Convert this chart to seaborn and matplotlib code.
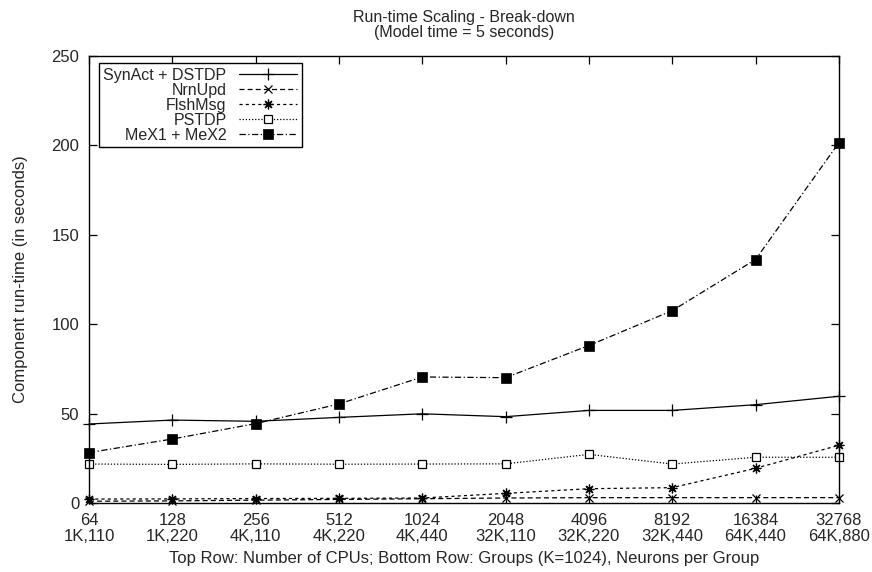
import matplotlib
matplotlib.use("Agg")
import matplotlib.pyplot as plt
import seaborn as sns
import numpy as np
import pandas as pd

cpus = ["64", "128", "256", "512", "1024", "2048", "4096", "8192", "16384", "32768"]
groups = ["1K,110", "1K,220", "4K,110", "4K,220", "4K,440",
          "32K,110", "32K,220", "32K,440", "64K,440", "64K,880"]

synact = [44.2, 46.4, 45.7, 47.9, 49.9, 48.3, 51.8, 51.8, 55.0, 59.7]
nrnupd = [1.0, 1.2, 1.6, 2.0, 2.4, 2.8, 3.0, 3.0, 3.0, 3.0]
flshmsg = [2.2, 2.3, 2.5, 2.6, 2.8, 5.4, 8.0, 8.6, 19.4, 32.3]
pstdp = [21.8, 21.6, 21.9, 21.7, 21.8, 21.9, 27.2, 21.8, 25.6, 25.6]
mex = [28.2, 35.8, 44.4, 55.4, 70.5, 70.1, 88.1, 107.6, 136.2, 201.5]

sns.set_theme(style="white")
plt.rcParams["font.family"] = ["Liberation Sans", "DejaVu Sans"]

FS = 12

fig = plt.figure(figsize=(8.72, 5.72), dpi=100)
ax = fig.add_axes([0.102, 0.1206, 0.86, 0.7814])

pos = np.arange(len(cpus))
series = [
    ("SynAct + DSTDP", synact, dict(linestyle="-", marker="+", markersize=8, markeredgewidth=0.9)),
    ("NrnUpd", nrnupd, dict(linestyle=(0, (4, 2.5)), marker="x", markersize=6, markeredgewidth=0.9)),
    ("FlshMsg", flshmsg, dict(linestyle=(0, (2.5, 2.5)), marker=(8, 2, 0), markersize=7, markeredgewidth=0.9)),
    ("PSTDP", pstdp, dict(linestyle=(0, (1, 1.5)), marker="s", markersize=6, markerfacecolor="white", markeredgewidth=0.9)),
    ("MeX1 + MeX2", mex, dict(linestyle=(0, (5, 2, 1, 2)), marker="s", markersize=7, markerfacecolor="black", markeredgewidth=0.5)),
]

for name, vals, style in series:
    df = pd.DataFrame({"pos": pos, "val": vals})
    sns.lineplot(data=df, x="pos", y="val", ax=ax, color="black", linewidth=0.9,
                 markeredgecolor="black", label=name, clip_on=False, **style)

ax.set_xlim(0, len(cpus) - 1)
ax.set_ylim(0, 250)
ax.set_xticks(pos)
ax.set_xticklabels([f"{c}\n{g}" for c, g in zip(cpus, groups)], fontsize=FS, linespacing=1.12)
ax.set_yticks(np.arange(0, 251, 50))
ax.tick_params(axis="y", labelsize=FS, pad=7)
ax.tick_params(axis="x", pad=7)
ax.tick_params(direction="in", length=6, width=0.9, color="black",
               top=True, right=True, bottom=True, left=True)

for sp in ax.spines.values():
    sp.set_color("black")
    sp.set_linewidth(1.0)

ax.set_xlabel("Top Row: Number of CPUs; Bottom Row: Groups (K=1024), Neurons per Group",
              fontsize=FS, labelpad=5)
ax.set_ylabel("Component run-time (in seconds)", fontsize=FS, labelpad=17)
ax.set_title("Run-time Scaling - Break-down\n(Model time = 5 seconds)", fontsize=11.5,
             pad=14, linespacing=1.0)

leg = ax.legend(loc="upper left", bbox_to_anchor=(0.013, 0.985), borderaxespad=0,
                markerfirst=False, fontsize=11.5, frameon=True, fancybox=False,
                handlelength=3.6, labelspacing=0.0, borderpad=0.3, handletextpad=0.8)
leg.get_frame().set_edgecolor("black")
leg.get_frame().set_linewidth(1.0)
leg.get_frame().set_alpha(1)

fig.savefig("out.png", dpi=100)
